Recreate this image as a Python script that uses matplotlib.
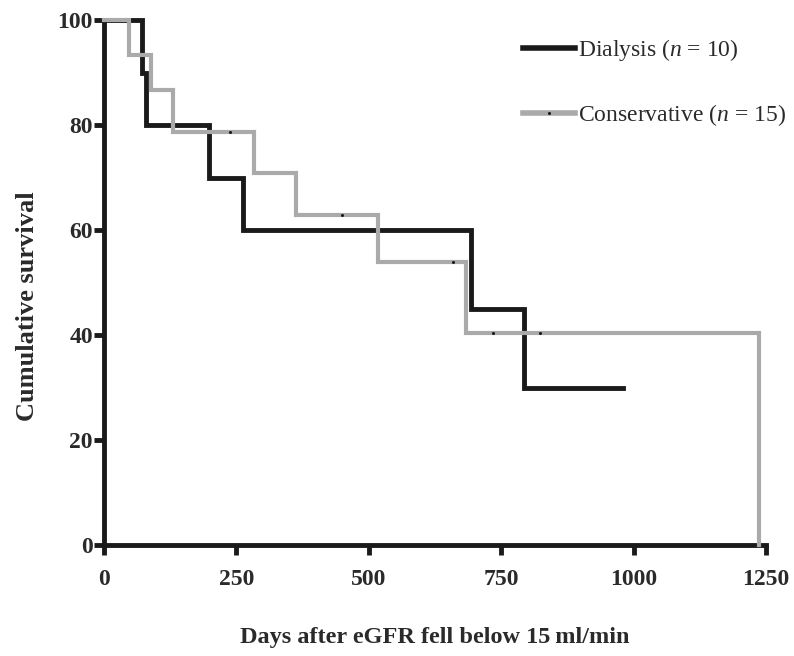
import matplotlib
matplotlib.use("Agg")
import matplotlib.pyplot as plt
from matplotlib.lines import Line2D

# Kaplan-Meier steps
dial_days = [0, 72, 80, 199, 262, 692, 792, 979]
dial_surv = [100, 90, 80, 70, 60, 45, 30, 30]

cons_days = [0, 47, 89, 130, 283, 362, 517, 683, 1236]
cons_surv = [100, 93.3, 86.7, 78.6, 70.8, 62.9, 53.9, 40.4, 0]

# censored observations (conservative group)
cens_days = [238, 450, 658, 734, 823]
cens_surv = [78.6, 62.9, 53.9, 40.4, 40.4]

x_ticks = [0, 250, 500, 750, 1000, 1250]
y_ticks = [0, 20, 40, 60, 80, 100]

black = "#1a1a1a"
gray = "#aaaaaa"
txt = "#2a2a2a"

plt.rcParams['font.family'] = ['Liberation Serif', 'DejaVu Serif']
plt.rcParams['mathtext.fontset'] = 'custom'
plt.rcParams['mathtext.rm'] = 'Liberation Serif'
plt.rcParams['mathtext.it'] = 'Liberation Serif:italic'

fig = plt.figure(figsize=(7.94, 6.56), dpi=100)
ax = fig.add_axes([0.131, 0.169, 0.834, 0.8005])

ax.plot(dial_days, dial_surv, drawstyle="steps-post", color=black, lw=3.5,
        solid_joinstyle="miter", clip_on=False, zorder=3)
ax.plot(cons_days, cons_surv, drawstyle="steps-post", color=gray, lw=3.0,
        solid_joinstyle="miter", clip_on=False, zorder=4)
ax.plot(cens_days, cens_surv, ls="none", marker="o", ms=1.2, color=black,
        clip_on=False, zorder=5)

ax.set_xlim(0, 1250)
ax.set_ylim(0, 100)
ax.set_xticks(x_ticks)
ax.set_yticks(y_ticks)

for side in ["top", "right"]:
    ax.spines[side].set_visible(False)
for side in ["left", "bottom"]:
    ax.spines[side].set_linewidth(3.5)
    ax.spines[side].set_color(black)
    ax.spines[side].set_capstyle("projecting")

ax.tick_params(axis="both", direction="out", length=7, width=3.5, color=black,
               labelsize=17, labelcolor=txt)
ax.tick_params(axis="x", pad=10)
ax.tick_params(axis="y", pad=1)
for lab in ax.get_xticklabels() + ax.get_yticklabels():
    lab.set_fontweight("bold")

ax.set_xlabel("Days after eGFR fell below 15\u2009ml/min", fontsize=17.5,
              fontweight="bold", color=txt)
ax.xaxis.set_label_coords(0.5, -0.155)
ax.set_ylabel("Cumulative survival", fontsize=19, fontweight="bold", color=txt)
ax.yaxis.set_label_coords(-0.098, 0.455)

handles = [
    Line2D([], [], color=black, lw=4),
    Line2D([], [], color=gray, lw=4, marker="o", ms=1.2, mfc=black, mec=black),
]
labels = ["Dialysis ($n$ = 10)", "Conservative ($n$ = 15)"]
ax.legend(handles, labels, loc="upper left", bbox_to_anchor=(0.618, 0.986),
          frameon=False, fontsize=17, handlelength=2.2, handletextpad=0.15,
          labelspacing=1.68, numpoints=1, labelcolor=txt, borderaxespad=0)

fig.savefig("out.png", dpi=100)
